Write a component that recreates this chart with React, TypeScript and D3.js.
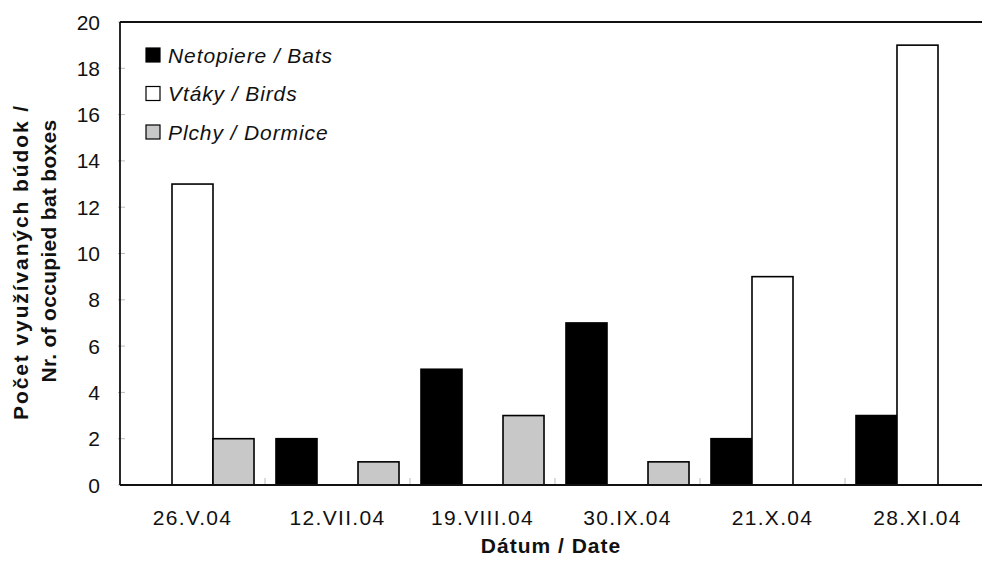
import React from "react";
import * as d3 from "d3";

const categories = ["26.V.04", "12.VII.04", "19.VIII.04", "30.IX.04", "21.X.04", "28.XI.04"];
const seriesNames = ["Netopiere / Bats", "Vtáky / Birds", "Plchy / Dormice"];
const bats = [0, 2, 5, 7, 2, 3];
const birds = [13, 0, 0, 0, 9, 19];
const dormice = [2, 1, 3, 1, 0, 0];
const yTicks = [0, 2, 4, 6, 8, 10, 12, 14, 16, 18, 20];
const seriesColors = ["#000000", "#ffffff", "#c8c8c8"];

const W = 982;
const H = 564;
const left = 120;
const top = 22;
const bottom = 485;
const rightEnd = 990;
const font = "Arial, 'Liberation Sans', Helvetica, sans-serif";

export default function App() {
  const seriesValues = [bats, birds, dormice];
  const x = d3.scaleBand<string>().domain(categories).range([left, rightEnd]).paddingInner(0).paddingOuter(0);
  const xi = d3
    .scaleBand<number>()
    .domain([0, 1, 2])
    .range([0, x.bandwidth()])
    .paddingInner(0)
    .paddingOuter(0.268);
  const y = d3.scaleLinear().domain([0, 20]).range([bottom, top]);

  return (
    <svg
      width={W}
      height={H}
      style={{ position: "absolute", left: 0, top: 0, background: "#fff" }}
      fontFamily={font}
    >
      <rect x={0} y={0} width={W} height={H} fill="#fff" />
      {/* y ticks */}
      {yTicks.map((t) => (
        <g key={t}>
          <line x1={left - 2} x2={left + 5} y1={y(t)} y2={y(t)} stroke="#bbb" strokeWidth={1} />
          <text x={100} y={y(t)} dy="0.36em" textAnchor="end" fontSize={21} fill="#111">
            {t}
          </text>
        </g>
      ))}
      {/* x band ticks */}
      {categories.slice(1).map((c) => (
        <line key={c} x1={x(c)!} x2={x(c)!} y1={bottom - 7} y2={bottom} stroke="#bbb" strokeWidth={1} />
      ))}
      {/* bars */}
      {categories.map((c, ci) =>
        seriesValues.map((vals, si) =>
          vals[ci] > 0 ? (
            <rect
              key={c + si}
              x={x(c)! + xi(si)!}
              y={y(vals[ci])}
              width={xi.bandwidth()}
              height={y(0) - y(vals[ci])}
              fill={seriesColors[si]}
              stroke="#000"
              strokeWidth={1.6}
            />
          ) : null
        )
      )}
      {/* frame */}
      <line x1={left} x2={W} y1={top} y2={top} stroke="#111" strokeWidth={1.8} />
      <line x1={left} x2={W} y1={bottom} y2={bottom} stroke="#111" strokeWidth={1.8} />
      <line x1={left} x2={left} y1={top} y2={bottom} stroke="#111" strokeWidth={1.8} />
      {/* x labels */}
      {categories.map((c) => (
        <text
          key={c}
          x={x(c)! + x.bandwidth() / 2}
          y={525}
          textAnchor="middle"
          fontSize={21}
          letterSpacing={1.3}
          fill="#111"
        >
          {c}
        </text>
      ))}
      <text x={551} y={553} textAnchor="middle" fontSize={21} fontWeight="bold" fill="#111" letterSpacing={1}>
        Dátum / Date
      </text>
      {/* y title */}
      <text
        transform={`translate(28, 262) rotate(-90)`}
        textAnchor="middle"
        fontSize={21}
        fontWeight="bold"
        letterSpacing={1.9}
        fill="#111"
      >
        Počet využívaných búdok /
      </text>
      <text
        transform={`translate(56, 251) rotate(-90)`}
        textAnchor="middle"
        fontSize={21}
        fontWeight="bold"
        letterSpacing={0.3}
        fill="#111"
      >
        Nr. of occupied bat boxes
      </text>
      {/* legend */}
      {seriesNames.map((n, i) => (
        <g key={n} transform={`translate(146, ${55 + i * 38.5})`}>
          <rect x={0} y={-7} width={14} height={14} fill={seriesColors[i]} stroke="#000" strokeWidth={1.2} />
          <text x={22} y={0} dy="0.36em" fontSize={21} fontStyle="italic" letterSpacing={0.9} fill="#111">
            {n}
          </text>
        </g>
      ))}
    </svg>
  );
}
